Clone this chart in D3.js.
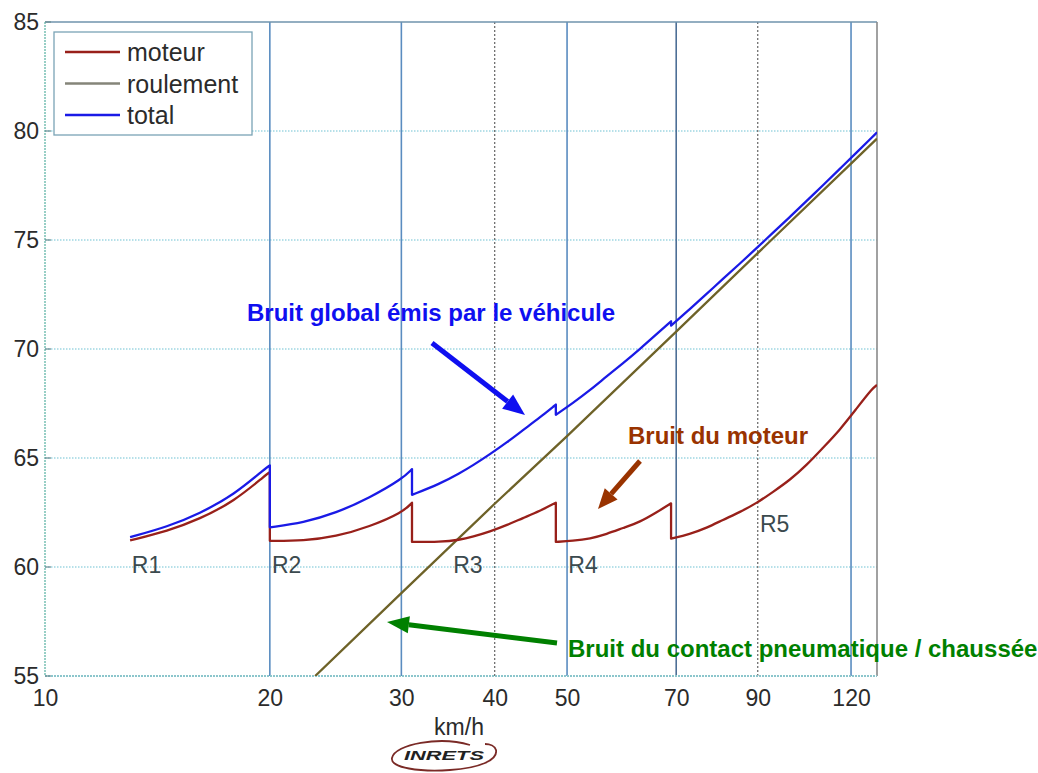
<!DOCTYPE html>
<html>
<head>
<meta charset="utf-8">
<script src="https://cdn.jsdelivr.net/npm/d3@7/dist/d3.min.js"></script>
<style>
  html, body { margin: 0; padding: 0; background: #ffffff; }
  svg { display: block; }
  text { font-family: "Liberation Sans", Arial, Helvetica, sans-serif; }
</style>
</head>
<body>
<svg id="chart" width="1038" height="773"></svg>
<script>
// ---------------- DATA ----------------
const speedTicks = [10, 20, 30, 40, 50, 70, 90, 120];
const dbTicks = [55, 60, 65, 70, 75, 80, 85];
const solidGridSpeeds = [20, 30, 50, 70, 120];
const dottedGridSpeeds = [40, 90];
const dottedGridDb = [60, 65, 70, 75, 80];

const seriesNames = ["moteur", "roulement", "total"];

// engine noise (moteur), gear by gear (repeated speed = gear change drop)
const moteurSpeed = [13.0, 14.6, 16.1, 17.9, 19.8, 20.0,
  20.0, 22.2, 24.5, 27.2, 30.1, 31.0,
  31.0, 33.8, 35.9, 37.4, 39.4, 41.6, 43.6, 46.0, 48.3,
  48.3, 50.9, 53.7, 56.5, 59.4, 62.6, 66.0, 68.9,
  68.9, 73.0, 76.9, 80.8, 85.2, 89.8, 94.3, 99.4, 104.7, 110.0, 115.9, 122.2, 128.3, 130.0];
const moteurDb = [61.22, 61.65, 62.2, 63.0, 64.25, 64.35,
  61.2, 61.2, 61.39, 61.85, 62.5, 62.95,
  61.15, 61.15, 61.24, 61.39, 61.62, 61.93, 62.24, 62.57, 62.95,
  61.15, 61.2, 61.3, 61.51, 61.79, 62.06, 62.52, 62.92,
  61.3, 61.51, 61.79, 62.16, 62.52, 62.94, 63.44, 63.99, 64.68, 65.46, 66.28, 67.29, 68.21, 68.35];
// total noise (same speeds)
const totalDb = [61.37, 61.85, 62.45, 63.3, 64.57, 64.66,
  61.82, 62.04, 62.47, 63.17, 64.05, 64.49,
  63.31, 63.82, 64.3, 64.66, 65.17, 65.73, 66.27, 66.86, 67.45,
  66.98, 67.52, 68.12, 68.75, 69.34, 70.0, 70.7, 71.27,
  71.07, 71.83, 72.53, 73.21, 73.92, 74.64, 75.33, 76.06, 76.8, 77.5, 78.26, 79.03, 79.74, 79.94];
// rolling noise (roulement)
const roulementSpeed = [23.0, 30, 40, 50, 70, 90, 120, 130];
const roulementDb = [55.0, 58.8, 62.9, 66.0, 70.8, 74.4, 78.5, 79.65];

// gear labels
const gearLabels = ["R1", "R2", "R3", "R4", "R5"];
const gearLabelSpeed = [13.07, 20.13, 35.2, 50.2, 90.6];
const gearLabelDb = [59.72, 59.72, 59.72, 59.72, 61.6];

// ---------------- CHART ----------------
const svg = d3.select("#chart");
const W = 1038, H = 773;
const plot = { left: 45, right: 877, top: 22, bottom: 676 };

const x = d3.scaleLog().domain([10, 130]).range([plot.left, plot.right]);
const y = d3.scaleLinear().domain([55, 85]).range([plot.bottom, plot.top]);

const colors = { moteur: "#98201a", roulement: "#6e6228", total: "#1a1ae6" };

svg.append("rect").attr("width", W).attr("height", H).attr("fill", "#ffffff");

svg.append("defs").append("clipPath").attr("id", "clip")
  .append("rect")
  .attr("x", plot.left).attr("y", plot.top)
  .attr("width", plot.right - plot.left).attr("height", plot.bottom - plot.top);

// gridlines horizontal
svg.append("g").selectAll("line").data(dottedGridDb).join("line")
  .attr("x1", plot.left).attr("x2", plot.right)
  .attr("y1", d => y(d)).attr("y2", d => y(d))
  .attr("stroke", "#9fd6e2").attr("stroke-width", 1.6)
  .attr("stroke-dasharray", "1.5,1.5");

// dotted vertical gridlines
svg.append("g").selectAll("line").data(dottedGridSpeeds).join("line")
  .attr("x1", d => x(d)).attr("x2", d => x(d))
  .attr("y1", plot.top).attr("y2", plot.bottom)
  .attr("stroke", "#707070").attr("stroke-width", 1.3)
  .attr("stroke-dasharray", "2,2");

// solid vertical lines
svg.append("g").selectAll("line").data(solidGridSpeeds).join("line")
  .attr("x1", d => x(d)).attr("x2", d => x(d))
  .attr("y1", plot.top).attr("y2", plot.bottom)
  .attr("stroke", d => d === 70 ? "#4d6f96" : "#5a8cc0").attr("stroke-width", 1.6);

// frame
svg.append("line").attr("x1", plot.left).attr("x2", plot.right).attr("y1", plot.top).attr("y2", plot.top)
  .attr("stroke", "#6f93ad").attr("stroke-width", 1.6);
svg.append("line").attr("x1", plot.right).attr("x2", plot.right).attr("y1", plot.top).attr("y2", plot.bottom)
  .attr("stroke", "#8a8a8a").attr("stroke-width", 1.6);
svg.append("line").attr("x1", plot.left).attr("x2", plot.left).attr("y1", plot.top).attr("y2", plot.bottom)
  .attr("stroke", "#7fc4b8").attr("stroke-width", 1.6).attr("stroke-dasharray", "2,1");
svg.append("line").attr("x1", plot.left).attr("x2", plot.right).attr("y1", plot.bottom).attr("y2", plot.bottom)
  .attr("stroke", "#8cc6cc").attr("stroke-width", 1.8).attr("stroke-dasharray", "2,1");

// small inner ticks on y axis
svg.append("g").selectAll("line").data(dbTicks).join("line")
  .attr("x1", plot.left).attr("x2", plot.left + 6)
  .attr("y1", d => y(d)).attr("y2", d => y(d))
  .attr("stroke", "#6a8a90").attr("stroke-width", 1.2);

// axis labels
const yAxis = d3.axisLeft(y).tickValues(dbTicks).tickSize(0).tickPadding(6).tickFormat(d3.format("d"));
const gy = svg.append("g").attr("transform", `translate(${plot.left},0)`).call(yAxis);
gy.select(".domain").remove();
gy.selectAll("text").attr("font-size", 23).attr("fill", "#2b2b2b")
  .attr("font-family", "'Liberation Sans', Arial, sans-serif");

const xAxis = d3.axisBottom(x).tickValues(speedTicks).tickSize(0).tickPadding(14).tickFormat(d3.format("d"));
const gx = svg.append("g").attr("transform", `translate(0,${plot.bottom})`).call(xAxis);
gx.select(".domain").remove();
gx.selectAll("text").attr("font-size", 23).attr("fill", "#2b2b2b")
  .attr("font-family", "'Liberation Sans', Arial, sans-serif");

// data lines: smooth within each gear, vertical drop at gear changes
const straight = d3.line().x(d => x(d[0])).y(d => y(d[1]));
const smooth = d3.line().x(d => x(d[0])).y(d => y(d[1])).curve(d3.curveBasis);
function gearPath(speeds, values) {
  const segs = [];
  let cur = [];
  speeds.forEach((s, i) => {
    if (cur.length && s === cur[cur.length - 1][0]) { segs.push(cur); cur = []; }
    cur.push([s, values[i]]);
  });
  if (cur.length) segs.push(cur);
  return segs.map((seg, k) => {
    const p = smooth(seg);
    return k === 0 ? p : "L" + p.slice(1);
  }).join("");
}

const g = svg.append("g").attr("clip-path", "url(#clip)");

g.append("path").datum(d3.zip(roulementSpeed, roulementDb))
  .attr("d", straight).attr("fill", "none").attr("stroke", colors.roulement).attr("stroke-width", 2.3);
g.append("path").attr("d", gearPath(moteurSpeed, moteurDb))
  .attr("fill", "none").attr("stroke", colors.moteur).attr("stroke-width", 2.3)
  .attr("stroke-linejoin", "round");
g.append("path").attr("d", gearPath(moteurSpeed, totalDb))
  .attr("fill", "none").attr("stroke", colors.total).attr("stroke-width", 2.3)
  .attr("stroke-linejoin", "round");

// gear labels
svg.append("g").selectAll("text").data(gearLabels).join("text")
  .attr("x", (d, i) => x(gearLabelSpeed[i]))
  .attr("y", (d, i) => y(gearLabelDb[i]))
  .attr("font-size", 23).attr("fill", "#3b4a4e")
  .text(d => d);

// legend
const lg = svg.append("g");
lg.append("rect").attr("x", 54).attr("y", 32).attr("width", 198).attr("height", 103)
  .attr("fill", "#ffffff").attr("stroke", "#7aa4b6").attr("stroke-width", 1.3);
const legendColors = [colors.moteur, "#858579", colors.total];
seriesNames.forEach((name, i) => {
  const ly = 52 + i * 31.5;
  lg.append("line").attr("x1", 65).attr("x2", 120).attr("y1", ly).attr("y2", ly)
    .attr("stroke", legendColors[i]).attr("stroke-width", 2.3);
  lg.append("text").attr("x", 127).attr("y", ly + 9).attr("font-size", 25)
    .attr("fill", "#2b2b2b").text(name);
});

// x axis title
svg.append("text").attr("x", 459).attr("y", 735).attr("text-anchor", "middle")
  .attr("font-size", 23).attr("fill", "#2b2b2b").text("km/h");

// INRETS logo
const logo = svg.append("g");
logo.append("path")
  .attr("d", "M 470 745 C 440 736, 395 744, 392 758 C 390 768, 420 772, 450 770 C 480 768, 498 760, 496 750 C 495 746, 490 744, 485 744")
  .attr("fill", "none").attr("stroke", "#7a2a26").attr("stroke-width", 1.8);
logo.append("text").attr("x", 444).attr("y", 760).attr("text-anchor", "middle")
  .attr("font-size", 12).attr("font-weight", "bold").attr("font-style", "italic")
  .attr("textLength", 80).attr("lengthAdjust", "spacingAndGlyphs")
  .attr("fill", "#222").text("INRETS");

// annotations
function arrow(x1, y1, x2, y2, color, width, headLen, headW) {
  const ang = Math.atan2(y2 - y1, x2 - x1);
  const bx = x2 - headLen * Math.cos(ang), by = y2 - headLen * Math.sin(ang);
  svg.append("line").attr("x1", x1).attr("y1", y1).attr("x2", bx).attr("y2", by)
    .attr("stroke", color).attr("stroke-width", width);
  const px = -Math.sin(ang) * headW / 2, py = Math.cos(ang) * headW / 2;
  svg.append("polygon")
    .attr("points", `${x2},${y2} ${bx + px},${by + py} ${bx - px},${by - py}`)
    .attr("fill", color);
}

svg.append("text").attr("x", 247).attr("y", 321).attr("font-size", 24).attr("font-weight", "bold")
  .attr("fill", "#0f0ff0").text("Bruit global émis par le véhicule");
arrow(432, 343, 525, 415, "#0f0ff0", 5, 22, 18);

svg.append("text").attr("x", 628).attr("y", 444).attr("font-size", 24).attr("font-weight", "bold")
  .attr("fill", "#993300").text("Bruit du moteur");
arrow(640, 461, 598, 509, "#993300", 5, 20, 17);

svg.append("text").attr("x", 568).attr("y", 657).attr("font-size", 24).attr("font-weight", "bold")
  .attr("fill", "#008000").text("Bruit du contact pneumatique / chaussée");
arrow(557, 643, 387, 622, "#008000", 5, 22, 17);
</script>
</body>
</html>
